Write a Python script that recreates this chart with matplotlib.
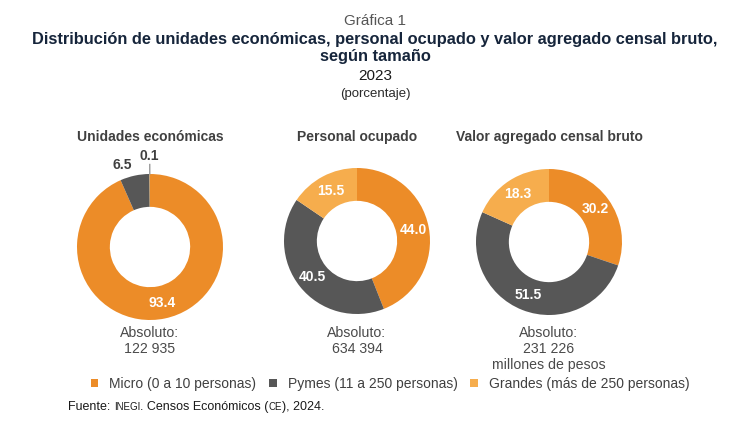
import matplotlib
matplotlib.use("Agg")
import matplotlib.pyplot as plt
from matplotlib.patches import Patch
import numpy as np

plt.rcParams["font.family"] = ["Liberation Sans", "DejaVu Sans"]

categories = ["Micro (0 a 10 personas)", "Pymes (11 a 250 personas)",
              "Grandes (más de 250 personas)"]
colors = ["#EC8C28", "#575757", "#F6AD4D"]

panel_titles = ["Unidades económicas", "Personal ocupado", "Valor agregado censal bruto"]
unidades = [93.4, 6.5, 0.1]
personal = [44.0, 40.5, 15.5]
valor = [30.2, 51.5, 18.3]
absolutos = ["Absoluto:\n122 935", "Absoluto:\n634 394",
             "Absoluto:\n231 226\nmillones de pesos"]

W, H = 750, 430
fig = plt.figure(figsize=(7.5, 4.3), dpi=100)
ax = fig.add_axes([0, 0, 1, 1])

# pixel positions of each donut (x, y from top)
centers = [(150, 247), (357, 241), (549, 242)]
R = 73
dark = "#404040"

for vals, (cx, cy), ttl, absol in zip([unidades, personal, valor], centers,
                                      panel_titles, absolutos):
    cy = H - cy
    wedges, _ = ax.pie(vals, colors=colors, startangle=90, counterclock=False,
                       center=(cx, cy), radius=R, frame=True,
                       wedgeprops=dict(width=R * 0.45, edgecolor="none"))
    for w, v in zip(wedges, vals):
        mid = np.deg2rad((w.theta1 + w.theta2) / 2)
        dx, dy = np.cos(mid), np.sin(mid)
        if v >= 10:
            ax.text(cx + 0.78 * R * dx, cy + 0.78 * R * dy, "%.1f" % v,
                    ha="center", va="center", color="white",
                    fontsize=10, fontweight="bold")
        elif v >= 1:
            ax.text(cx + 1.15 * R * dx, cy + 1.15 * R * dy, "%.1f" % v,
                    ha="right", va="center", color=dark,
                    fontsize=10, fontweight="bold")
        else:
            ax.plot([cx + R * dx, cx + 1.13 * R * dx],
                    [cy + R * dy, cy + 1.13 * R * dy], color="#9A9A9A", lw=1)
            ax.text(cx + 1.24 * R * dx, cy + 1.24 * R * dy, "%.1f" % v,
                    ha="center", va="center", color=dark,
                    fontsize=10, fontweight="bold")
    ax.text(cx, H - 137, ttl, ha="center", va="center", color=dark,
            fontsize=10, fontweight="bold")
    ax.text(cx, H - 326, absol, ha="center", va="top", color="#4A4A4A",
            fontsize=10.2, linespacing=1.18)

ax.set_xlim(0, W)
ax.set_ylim(0, H)
ax.set_aspect("equal")
ax.axis("off")

# titles
fig.text(0.5, 1 - 21 / H, "Gráfica 1", ha="center", va="center",
         fontsize=11, color="#555555")
fig.text(0.5, 1 - 48 / H,
         "Distribución de unidades económicas, personal ocupado y valor agregado censal bruto,\nsegún tamaño",
         ha="center", va="center", fontsize=11.8, fontweight="bold",
         color="#16253B", linespacing=1.2)
fig.text(0.5, 1 - 76 / H, "2023", ha="center", va="center",
         fontsize=11, color="#1A1A1A")
fig.text(0.5, 1 - 94 / H, "(porcentaje)", ha="center", va="center",
         fontsize=9.5, color="#2A2A2A")

handles = [Patch(facecolor=c, edgecolor="none", label=l)
           for c, l in zip(colors, categories)]
fig.legend(handles=handles, loc="center", bbox_to_anchor=(390 / W, 1 - 384 / H),
           ncol=3, frameon=False, fontsize=10, handlelength=0.55,
           handleheight=0.55, handletextpad=0.8, columnspacing=0.9,
           labelcolor=dark)

# source line with small caps pieces
pieces = [("Fuente: ", 9), ("INEGI", 7), (". Censos Económicos (", 9),
          ("CE", 7), ("), 2024.", 9)]
renderer = fig.canvas.get_renderer()
x = 68
for s, fs in pieces:
    t = fig.text(x / W, 1 - 410 / H, s, ha="left", va="baseline",
                 fontsize=fs, color="#1A1A1A")
    x += t.get_window_extent(renderer).width

fig.savefig("out.png", dpi=100)
